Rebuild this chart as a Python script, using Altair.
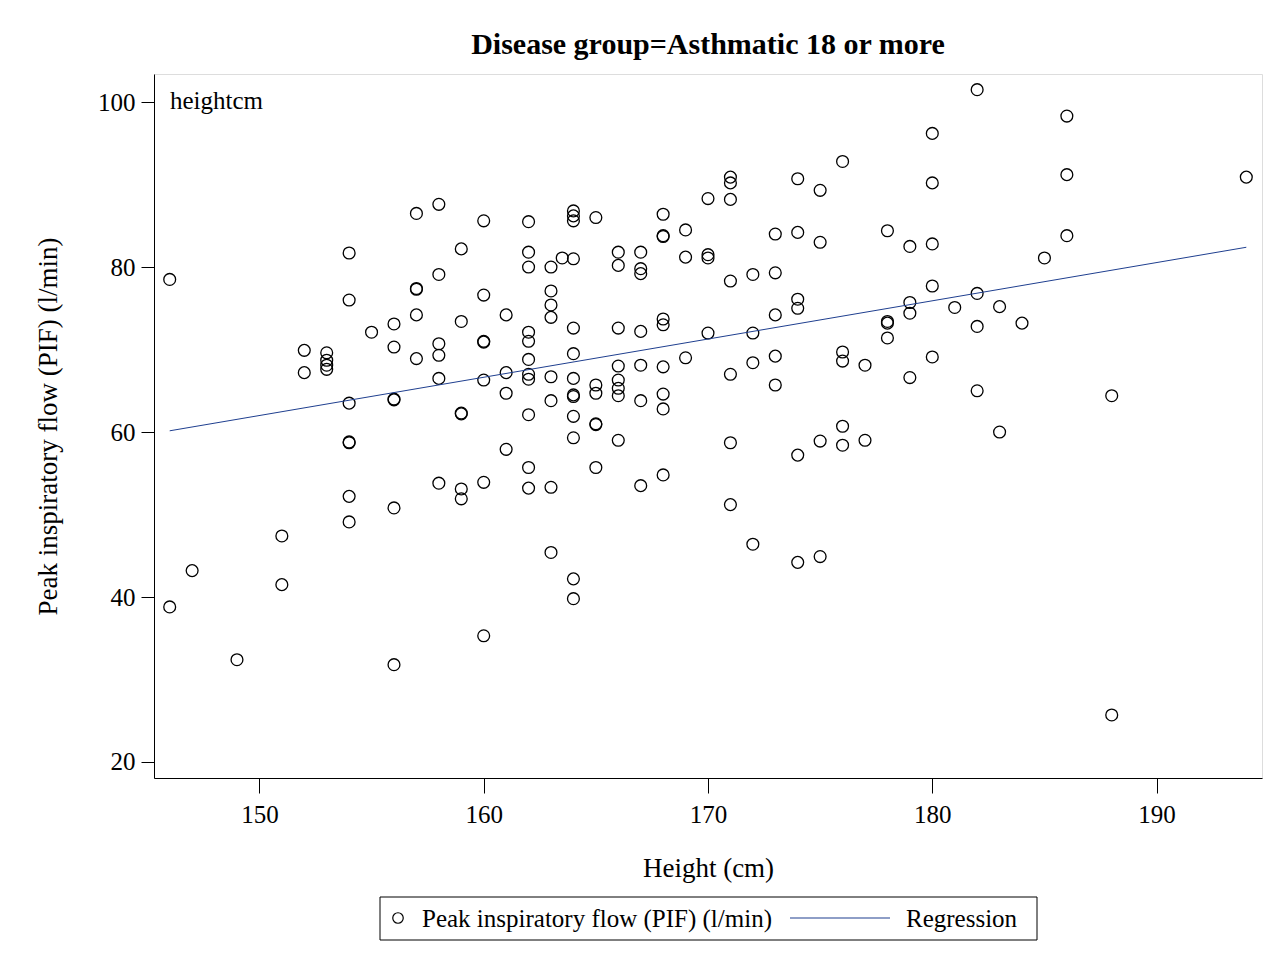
import altair as alt
import pandas as pd

# heights (cm) and peak inspiratory flow (l/min)
height_cm = (
    [146, 146, 147, 149, 151, 151, 152, 152, 153, 153, 153, 153]
    + [154] * 7 + [155] + [156] * 6 + [157] * 5 + [158] * 6 + [159] * 6
    + [160] * 7 + [161] * 4 + [162] * 11 + [163] * 8 + [163.5] + [164] * 13
    + [165] * 6 + [166] * 8 + [167] * 7 + [168] * 9 + [169] * 3 + [170] * 4
    + [171] * 7 + [172] * 4 + [173] * 5 + [174] * 6 + [175] * 4 + [176] * 5
    + [177] * 2 + [178] * 4 + [179] * 4 + [180] * 5 + [181] + [182] * 4
    + [183] * 2 + [184] + [185] + [186] * 3 + [188] * 2 + [194]
)
pif = [
    78.5, 38.8, 43.2, 32.4, 47.4, 41.5, 69.9, 67.2, 69.6, 68.7, 68.1, 67.6,
    81.7, 76.0, 63.5, 58.8, 58.7, 52.2, 49.1,
    72.1,
    73.1, 70.3, 64.0, 63.9, 50.8, 31.8,
    86.5, 77.4, 77.3, 74.2, 68.9,
    87.6, 79.1, 70.7, 69.3, 66.5, 53.8,
    82.2, 73.4, 62.3, 62.2, 53.1, 51.9,
    85.6, 76.6, 71.0, 70.9, 66.3, 53.9, 35.3,
    74.2, 67.2, 64.7, 57.9,
    85.5, 81.8, 80.0, 72.1, 71.0, 68.8, 67.0, 66.4, 62.1, 55.7, 53.2,
    80.0, 77.1, 75.4, 73.9, 66.7, 63.8, 53.3, 45.4,
    81.1,
    86.8, 86.2, 85.6, 81.0, 72.6, 69.5, 66.5, 64.5, 64.3, 61.9, 59.3, 42.2, 39.8,
    86.0, 65.7, 64.7, 61.0, 60.9, 55.7,
    81.8, 80.2, 72.6, 68.0, 66.3, 65.3, 64.4, 59.0,
    81.8, 79.8, 79.2, 72.2, 68.1, 63.8, 53.5,
    86.4, 83.8, 83.7, 73.7, 73.0, 67.9, 64.6, 62.8, 54.8,
    84.5, 81.2, 69.0,
    88.3, 81.5, 81.1, 72.0,
    90.9, 90.2, 88.2, 78.3, 67.0, 58.7, 51.2,
    79.1, 72.0, 68.4, 46.4,
    84.0, 79.3, 74.2, 69.2, 65.7,
    90.7, 84.2, 76.1, 75.0, 57.2, 44.2,
    89.3, 83.0, 58.9, 44.9,
    92.8, 69.7, 68.6, 60.7, 58.4,
    68.1, 59.0,
    84.4, 73.4, 73.2, 71.4,
    82.5, 75.7, 74.4, 66.6,
    96.2, 90.2, 82.8, 77.7, 69.1,
    75.1,
    101.5, 76.8, 72.8, 65.0,
    75.2, 60.0,
    73.2,
    81.1,
    98.3, 91.2, 83.8,
    64.4, 25.7,
    90.9,
]
x_ticks = [150, 160, 170, 180, 190]
y_ticks = [20, 40, 60, 80, 100]
legend_labels = ["Peak inspiratory flow (PIF) (l/min)", "Regression"]

FONT = "Liberation Serif"
LINE_COLOR = "#1f3f8f"

df = pd.DataFrame({"height": height_cm, "pif": pif})
one = pd.DataFrame({"k": [0]})

x_enc = alt.X(
    "height:Q",
    scale=alt.Scale(domain=[145.3, 194.7], nice=False, zero=False),
    axis=alt.Axis(
        values=x_ticks, title="Height (cm)", grid=False,
        tickSize=15, labelPadding=9, labelFontSize=25, labelColor="black",
        titleFontSize=27, titleFontWeight="normal", titleColor="black",
        titleY=90, titleBaseline="middle",
        domainColor="black", tickColor="black", labelFont=FONT, titleFont=FONT,
    ),
)
y_enc = alt.Y(
    "pif:Q",
    scale=alt.Scale(domain=[18.06, 103.4], nice=False, zero=False),
    axis=alt.Axis(
        values=y_ticks, title="Peak inspiratory flow (PIF) (l/min)", grid=False,
        tickSize=13, labelPadding=6, labelFontSize=25, labelColor="black",
        titleFontSize=27, titleFontWeight="normal", titleColor="black",
        titleX=-106, titleY=352, titleAngle=-90, titleBaseline="middle", titleAlign="center",
        domainColor="black", tickColor="black", labelFont=FONT, titleFont=FONT,
    ),
)

points = (
    alt.Chart(df)
    .mark_point(shape="circle", filled=False, size=140, color="black", strokeWidth=1.3, opacity=1)
    .encode(x=x_enc, y=y_enc)
)

fit = (
    alt.Chart(df)
    .transform_regression("height", "pif")
    .mark_line(color=LINE_COLOR, strokeWidth=1)
    .encode(x="height:Q", y="pif:Q")
)

inset = (
    alt.Chart(one)
    .mark_text(text="heightcm", font=FONT, fontSize=25, align="left", baseline="middle", color="black")
    .encode(x=alt.value(16), y=alt.value(27))
)

# legend drawn under the plot
legend_box = (
    alt.Chart(one)
    .mark_rect(fillOpacity=0, stroke="black", strokeWidth=1)
    .encode(x=alt.value(226), x2=alt.value(883), y=alt.value(823), y2=alt.value(866))
)
legend_dot = (
    alt.Chart(one)
    .mark_point(shape="circle", filled=False, size=110, color="black", strokeWidth=1.2, opacity=1)
    .encode(x=alt.value(244), y=alt.value(844))
)
legend_line = (
    alt.Chart(one)
    .mark_rule(color=LINE_COLOR, strokeWidth=1.2)
    .encode(x=alt.value(636), x2=alt.value(736), y=alt.value(844))
)
legend_text1 = (
    alt.Chart(one)
    .mark_text(text=legend_labels[0], font=FONT, fontSize=25, align="left", baseline="middle", color="black")
    .encode(x=alt.value(268), y=alt.value(845))
)
legend_text2 = (
    alt.Chart(one)
    .mark_text(text=legend_labels[1], font=FONT, fontSize=25, align="left", baseline="middle", color="black")
    .encode(x=alt.value(752), y=alt.value(845))
)

chart = (
    alt.layer(points, fit, inset, legend_box, legend_dot, legend_line, legend_text1, legend_text2)
    .properties(
        width=1108,
        height=704,
        autosize="none",
        padding={"left": 146, "top": 66, "right": 15, "bottom": 170},
        title=alt.TitleParams(
            "Disease group=Asthmatic 18 or more",
            font=FONT, fontSize=30, fontWeight="bold", color="black",
            anchor="middle", offset=14,
        ),
    )
    .configure_view(stroke="black", strokeWidth=1.5)
    .configure(background="white")
)

chart.save("out.html", embed_options={"renderer": "svg", "actions": False})
